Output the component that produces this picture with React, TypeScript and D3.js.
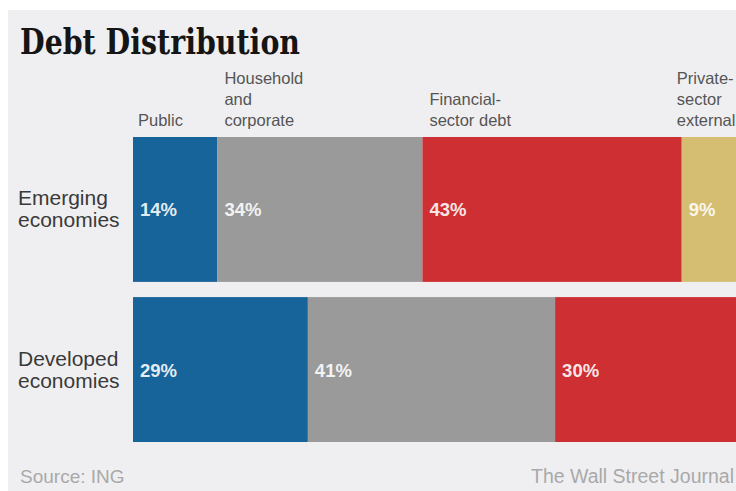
import React from 'react';
import * as d3 from 'd3';

// Debt distribution by type, share of total (%)
const economies = ['Emerging economies', 'Developed economies'];
const economyLines = [['Emerging', 'economies'], ['Developed', 'economies']];
const categories = ['Public', 'Household and corporate', 'Financial-sector debt', 'Private-sector external'];
const headerLines = [['Public'], ['Household', 'and', 'corporate'], ['Financial-', 'sector debt'], ['Private-', 'sector', 'external']];
const emergingShares = [14, 34, 43, 9];
const developedShares = [29, 41, 30, 0];

const colors = ['#17649b', '#9a9a9a', '#cd2f33', '#d5bd72'];

const W = 736;
const H = 491;
const sans = '"Liberation Sans", Arial, sans-serif';

export default function App() {
  const rows = [emergingShares, developedShares].map((vals, i) => {
    const r: Record<string, any> = { economy: economies[i] };
    categories.forEach((c, j) => (r[c] = vals[j]));
    return r;
  });
  const series = d3.stack().keys(categories)(rows as any);

  const x = d3.scaleLinear().domain([0, 100]).range([133, 736]);
  const y = d3.scaleBand().domain(economies).range([137, 442]).paddingInner(0.095);
  const bh = y.bandwidth();

  const firstRow = series.map(s => s[0]);

  return (
    <svg width={W} height={H} style={{ position: 'fixed', left: 0, top: 0, display: 'block' }}>
      <rect x={0} y={0} width={W} height={H} fill="#ffffff" />
      <rect x={8} y={10} width={W - 8} height={H - 10} fill="#efeff1" />

      <text x={20} y={54} fontFamily='"DejaVu Serif", serif' fontWeight="bold" fontSize={36}
        textLength={280} lengthAdjust="spacingAndGlyphs" fill="#151515">Debt Distribution</text>

      {/* column headers, bottom-aligned above the top bar */}
      {headerLines.map((lines, i) => {
        const seg = firstRow[i];
        const last = i === categories.length - 1;
        const hx = last ? x(seg[0]) - 5 : x(seg[0]) + (i === 0 ? 5 : 7);
        return (
          <text key={i} x={hx} fontFamily={sans} fontSize={16.5} fill="#555">
            {lines.map((ln, k) => (
              <tspan key={k} x={hx} y={126 - (lines.length - 1 - k) * 21}>{ln}</tspan>
            ))}
          </text>
        );
      })}

      {series.map((s, i) => (
        <g key={i}>
          {s.map((d, j) => {
            const w = x(d[1]) - x(d[0]);
            if (w <= 0) return null;
            return (
              <g key={j}>
                <rect x={x(d[0])} y={y(economies[j])} width={w} height={bh} fill={colors[i]} />
                <text x={x(d[0]) + 7} y={(y(economies[j]) as number) + bh / 2 + 7}
                  fontFamily={sans} fontWeight="bold" fontSize={18.5} fill="#ffffff" fillOpacity={0.9}>
                  {`${d[1] - d[0]}%`}
                </text>
              </g>
            );
          })}
        </g>
      ))}

      {economies.map((e, i) => {
        const cy = (y(e) as number) + bh / 2;
        return (
          <text key={e} fontFamily={sans} fontSize={21} fill="#3a3a3a">
            {economyLines[i].map((ln, k) => (
              <tspan key={k} x={18} y={cy - 4 + k * 22}>{ln}</tspan>
            ))}
          </text>
        );
      })}

      <text x={20} y={483} fontFamily={sans} fontSize={19} fill="#a9a9a9">Source: ING</text>
      <text x={734} y={483} textAnchor="end" fontFamily={sans} fontSize={19.5} fill="#a9a9a9">The Wall Street Journal</text>
    </svg>
  );
}
